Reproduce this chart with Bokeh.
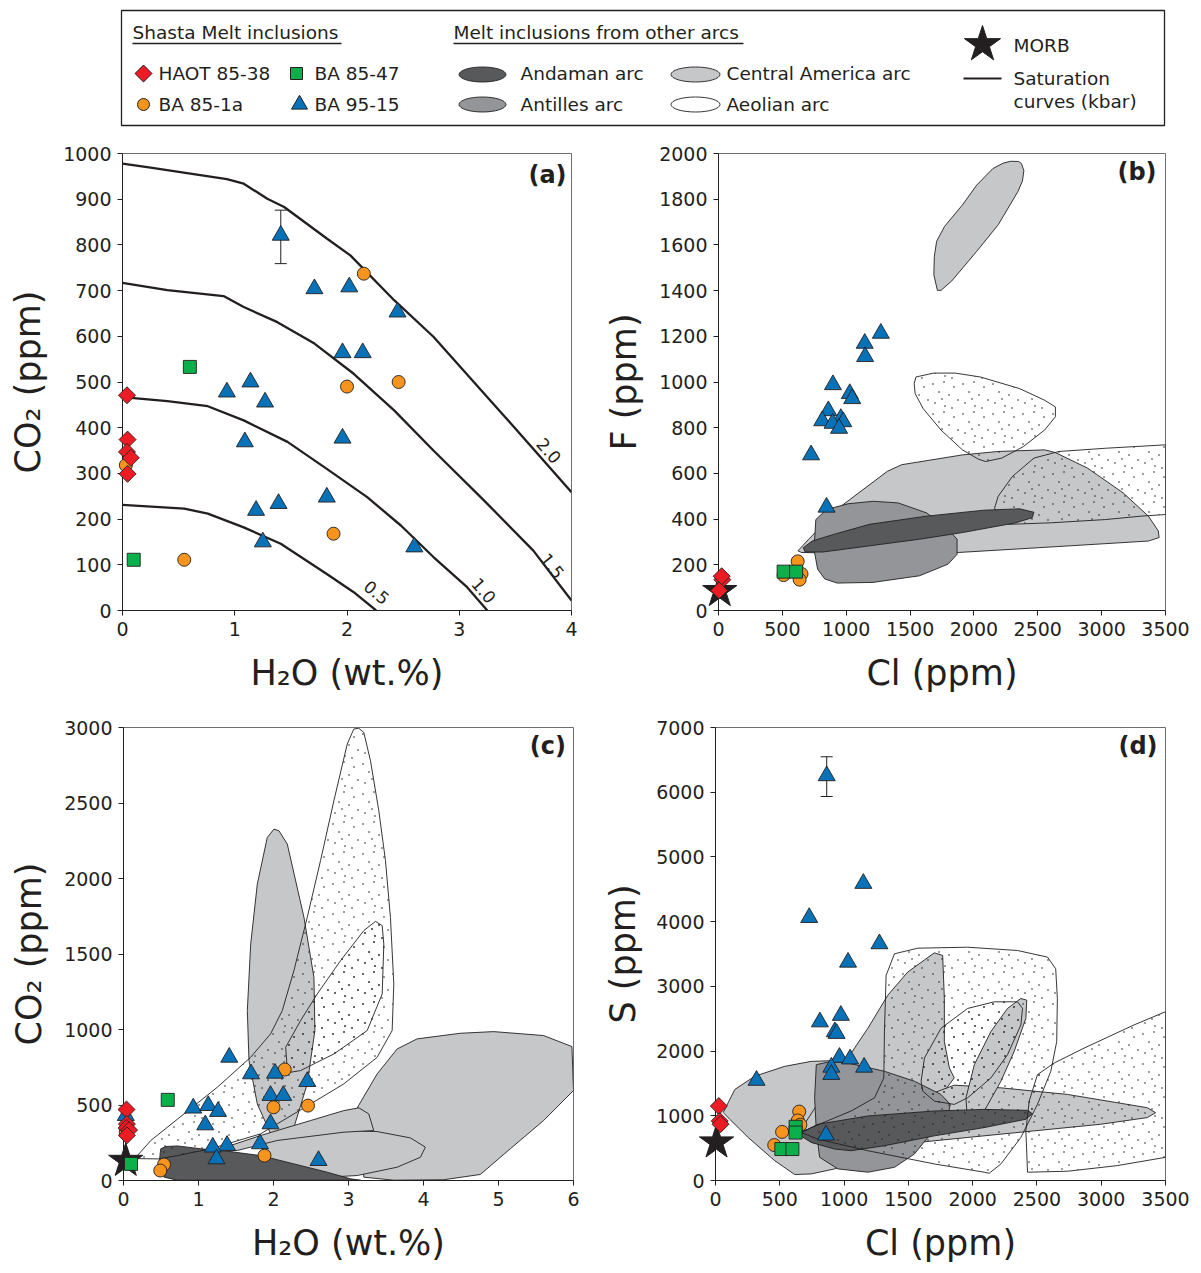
import base64
import numpy as np
from bokeh.plotting import figure
from bokeh.models import ColumnDataSource, Whisker, TeeHead, FixedTicker, Label, ImageURLTexture
from bokeh.layouts import column, row
from bokeh.embed import file_html
from bokeh.resources import INLINE
from bokeh.core.properties import value

FONT = "DejaVu Sans"
INK = "#231f20"
C_RED, C_ORA, C_GRN, C_BLU = "#ed1c24", "#f7941d", "#0cb04a", "#0872b9"
C_AND, C_ANT, C_CA = "#58595b", "#939598", "#c6c7c9"

# ---------------- panel (a): H2O vs CO2 with saturation curves ----------------
a_haot_h2o = [0.04, 0.045, 0.04, 0.074, 0.045]
a_haot_co2 = [471, 374, 347, 334, 299]
a_ba851a_h2o = [0.03, 2.15, 2.0, 2.46, 1.88, 0.55]
a_ba851a_co2 = [318, 737, 490, 500, 168, 111]
a_ba8547_h2o = [0.6, 0.1]
a_ba8547_co2 = [533, 111]
a_ba9515_h2o = [1.41, 1.71, 2.02, 2.45, 1.96, 2.14, 0.93, 1.14, 1.27, 1.09, 1.96, 1.82, 1.39, 1.19, 1.25, 2.6]
a_ba9515_co2 = [821, 704, 708, 653, 564, 564, 478, 500, 456, 369, 377, 248, 234, 219, 150, 139]
a_err_h2o, a_err_lo, a_err_hi = [1.41], [759], [876]

sat20_h2o = [0, 0.25, 0.93, 1.08, 1.29, 1.44, 1.82, 2.03, 2.42, 2.77, 3.37, 4.0]
sat20_co2 = [978, 969, 944, 934, 901, 883, 814, 777, 679, 599, 434, 259]
sat15_h2o = [0, 0.4, 0.9, 1.08, 1.38, 1.71, 2.06, 2.42, 2.77, 3.22, 3.66, 4.0]
sat15_co2 = [717, 701, 688, 664, 631, 584, 518, 438, 350, 241, 131, 22]
sat10_h2o = [0, 0.4, 0.76, 1.08, 1.47, 1.82, 2.18, 2.48, 2.77, 3.07, 3.25]
sat10_co2 = [467, 458, 447, 416, 369, 310, 248, 186, 117, 51, 0]
sat05_h2o = [0, 0.55, 0.76, 1.08, 1.41, 1.82, 2.06, 2.26]
sat05_co2 = [231, 223, 212, 182, 146, 80, 40, 0]
sat_labels = ["2.0", "1.5", "1.0", "0.5"]
sat_lab_h2o = [3.80, 3.83, 3.22, 2.265]
sat_lab_co2 = [350, 98, 44, 40]
sat_lab_angle = [-0.84, -0.90, -0.85, -0.68]

# ---------------- panel (b): Cl vs F ----------------
b_haot_cl, b_haot_f = [30, 5, 25], [135, 88, 150]
b_ba851a_cl, b_ba851a_f = [510, 620, 650, 635], [155, 215, 160, 135]
b_ba8547_cl, b_ba8547_f = [510, 608], [170, 170]
b_ba9515_cl = [1271, 1145, 1148, 896, 1028, 1047, 860, 812, 958, 977, 893, 944, 725, 846]
b_ba9515_f = [1213, 1169, 1111, 988, 949, 927, 874, 830, 840, 826, 819, 797, 681, 452]
b_morb_cl, b_morb_f = [10], [85]

b_ca1_cl = [1714, 1686, 1690, 1708, 1770, 1910, 2022, 2148, 2230, 2288, 2350, 2372, 2391, 2380, 2344, 2190, 2022, 1826, 1742]
b_ca1_f = [1401, 1470, 1550, 1616, 1681, 1775, 1862, 1934, 1958, 1966, 1965, 1956, 1925, 1880, 1833, 1688, 1572, 1442, 1401]
b_ca2_cl = [622, 706, 958, 1322, 1434, 1910, 2190, 2554, 2638, 2890, 3170, 3366, 3444, 3450, 3366, 2750, 1882, 1070, 650]
b_ca2_f = [261, 312, 456, 609, 638, 681, 696, 703, 691, 623, 514, 413, 348, 319, 304, 283, 254, 249, 254]
b_aeo1_cl = [1532, 1546, 1686, 1854, 2050, 2358, 2554, 2638, 2638, 2554, 2386, 2218, 2092, 2036, 1910, 1742, 1602, 1540]
b_aeo1_f = [993, 1022, 1039, 1039, 1022, 971, 920, 891, 848, 790, 717, 667, 652, 662, 703, 790, 884, 949]
b_aeo2_cl = [2162, 2190, 2302, 2470, 2666, 3030, 3500, 3500, 3310, 3030, 2610, 2274, 2190]
b_aeo2_f = [449, 500, 587, 667, 696, 710, 725, 420, 413, 398, 384, 377, 406]
b_ant_cl = [762, 846, 1014, 1210, 1406, 1630, 1798, 1868, 1868, 1798, 1574, 1210, 930, 832, 776, 748]
b_ant_f = [398, 442, 467, 478, 471, 427, 355, 312, 246, 203, 152, 123, 120, 138, 181, 268]
b_and_cl = [664, 734, 902, 1182, 1630, 2078, 2358, 2470, 2456, 2330, 1910, 1574, 1182, 818, 678]
b_and_f = [275, 304, 333, 377, 413, 439, 445, 430, 406, 384, 341, 312, 283, 256, 256]

# ---------------- panel (c): H2O vs CO2 with fields ----------------
c_haot_h2o, c_haot_co2 = [0.04, 0.045, 0.04, 0.074, 0.045], [470, 374, 347, 334, 299]
c_ba851a_h2o = [0.03, 2.15, 2.0, 2.46, 1.88, 0.54, 0.49]
c_ba851a_co2 = [318, 735, 485, 496, 165, 106, 66]
c_ba8547_h2o, c_ba8547_co2 = [0.59, 0.1], [534, 110]
c_ba9515_h2o = [0.03, 1.41, 1.70, 2.02, 2.45, 1.96, 2.13, 0.93, 1.13, 1.26, 1.09, 1.96, 1.82, 1.38, 1.19, 1.24, 2.6]
c_ba9515_co2 = [430, 816, 706, 710, 655, 563, 563, 479, 496, 457, 368, 375, 243, 232, 221, 143, 132]
c_morb_h2o, c_morb_co2 = [0.03], [130]

c_ca_tall_h2o = [2.006, 1.917, 1.784, 1.696, 1.651, 1.673, 1.784, 1.962, 2.153, 2.273, 2.45, 2.552, 2.539, 2.406, 2.184, 2.073]
c_ca_tall_co2 = [2327, 2272, 1963, 1566, 1125, 794, 507, 309, 249, 353, 640, 993, 1346, 1743, 2228, 2316]
c_ca_right_h2o = [3.116, 3.382, 3.648, 3.915, 4.491, 4.935, 5.601, 5.979, 6.0, 5.601, 5.157, 4.758, 4.269, 3.604, 3.204]
c_ca_right_co2 = [481, 706, 871, 938, 975, 986, 960, 887, 596, 397, 210, 40, 5, 2, 22]
c_ca_ell_h2o = [1.828, 2.139, 2.716, 3.382, 3.826, 4.025, 3.959, 3.648, 3.116, 2.583, 2.05]
c_ca_ell_co2 = [238, 298, 335, 324, 282, 221, 154, 88, 33, 18, 44]
c_ca_small_h2o = [1.162, 1.828, 2.494, 2.938, 3.139, 3.27, 3.337, 2.938, 2.05, 1.518]
c_ca_small_co2 = [188, 298, 397, 463, 481, 441, 331, 320, 265, 199]
c_and_h2o = [0.497, 0.563, 0.719, 1.029, 1.385, 1.828, 2.272, 2.716, 3.027, 3.16, 2.94, 1.607, 0.719, 0.541, 0.474, 0.488]
c_and_co2 = [210, 225, 229, 210, 194, 165, 110, 55, 11, 2, 2, 2, 2, 22, 88, 176]
c_aeo_h2o = [0.15, 0.364, 0.807, 1.252, 1.695, 1.961, 2.117, 2.272, 2.450, 2.627, 2.805, 2.983, 3.071, 3.137,
             3.204, 3.293, 3.404, 3.493, 3.559, 3.604, 3.582, 3.382, 2.938, 2.494, 1.828, 1.162, 0.719, 0.474]
c_aeo_co2 = [145, 265, 441, 618, 816, 971, 1125, 1390, 1743, 2118, 2515, 2890, 2990, 2995,
             2967, 2780, 2449, 2118, 1743, 1302, 993, 816, 640, 507, 309, 210, 165, 143]
c_aeo_in_h2o = [2.184, 2.162, 2.361, 2.583, 2.894, 3.204, 3.36, 3.449, 3.471, 3.449, 3.249, 2.805, 2.361, 2.228]
c_aeo_in_co2 = [739, 882, 1059, 1235, 1456, 1655, 1716, 1688, 1566, 1235, 993, 838, 728, 717]

# ---------------- panel (d): Cl vs S ----------------
d_haot_cl, d_haot_s = [26, 33, 39], [1150, 920, 870]
d_ba851a_cl, d_ba851a_s = [651, 640, 660, 518, 457], [1065, 928, 862, 751, 548]
d_ba8547_cl, d_ba8547_s = [623, 623, 512, 598], [830, 741, 486, 486]
d_ba9515_cl = [865, 1150, 729, 1275, 1031, 975, 812, 928, 942, 964, 1047, 1156, 901, 901, 319, 859]
d_ba9515_s = [6254, 4590, 4063, 3657, 3373, 2551, 2450, 2298, 2272, 1902, 1877, 1750, 1750, 1638, 1547, 700]
d_morb_cl, d_morb_s = [8], [588]
d_err_cl, d_err_lo, d_err_hi = [865], [5934], [6548]

d_ca_blob_cl = [60, 150, 305, 538, 745, 978, 1185, 1340, 1340, 1133, 926, 745, 616, 460, 254, 111]
d_ca_blob_s = [1050, 1406, 1611, 1764, 1841, 1856, 1790, 1636, 767, 307, 179, 102, 92, 307, 665, 946]
d_ca_tall_cl = [642, 874, 1185, 1340, 1495, 1702, 1767, 1780, 1780, 1819, 1857, 1702, 1314, 926]
d_ca_tall_s = [716, 1432, 2352, 2863, 3221, 3518, 3477, 2812, 2148, 1739, 1585, 1176, 767, 562]
d_ca_blade_cl = [667, 1185, 1857, 2220, 2737, 3125, 3358, 3423, 3358, 2996, 2478, 1961, 1444, 1055, 745]
d_ca_blade_s = [767, 972, 1473, 1432, 1330, 1202, 1125, 1048, 972, 869, 767, 665, 562, 511, 588]
d_ca_narrow_cl = [1961, 1948, 2013, 2142, 2271, 2375, 2421, 2414, 2323, 2220, 2090, 1987]
d_ca_narrow_s = [869, 1278, 1790, 2301, 2659, 2812, 2787, 2506, 1994, 1534, 1074, 844]
d_ant_cl = [784, 900, 1030, 1314, 1547, 1754, 1826, 1806, 1651, 1547, 1392, 1185, 952, 810, 784, 771]
d_ant_s = [1790, 1841, 1815, 1687, 1534, 1330, 1176, 972, 665, 409, 204, 128, 179, 358, 767, 1278]
d_and_cl = [642, 797, 1185, 1702, 2090, 2427, 2465, 2414, 2090, 1702, 1314, 1055, 926, 745]
d_and_s = [716, 869, 997, 1074, 1099, 1084, 1033, 946, 818, 690, 537, 460, 486, 588]
d_aeo_box_cl = [667, 745, 1055, 1237, 1309, 1314, 1327, 1392, 1573, 1961, 2349, 2582, 2646, 2659, 2654, 2608,
                2504, 2375, 2220, 2129, 2090, 1702, 1185, 797]
d_aeo_box_s = [741, 818, 1074, 1278, 1585, 2301, 3170, 3503, 3590, 3605, 3554, 3452, 3272, 2812, 2148, 1687,
               1176, 665, 256, 112, 128, 256, 460, 639]
d_aeo_loop_cl = [1599, 1625, 1754, 1961, 2168, 2349, 2388, 2375, 2271, 2142, 1961, 1857, 1702, 1612]
d_aeo_loop_s = [1534, 1892, 2352, 2659, 2761, 2761, 2659, 2403, 1943, 1585, 1278, 1176, 1227, 1381]
d_aeo_wedge_cl = [2427, 2414, 2440, 2504, 2634, 2866, 3254, 3500, 3500, 3125, 2737]
d_aeo_wedge_s = [128, 767, 1227, 1636, 1815, 2045, 2403, 2608, 358, 230, 143]

# ---------------- axes ----------------
a_xticks, a_yticks = [0, 1, 2, 3, 4], list(range(0, 1001, 100))
b_xticks, b_yticks = list(range(0, 3501, 500)), list(range(0, 2001, 200))
c_xticks, c_yticks = [0, 1, 2, 3, 4, 5, 6], list(range(0, 3001, 500))
d_xticks, d_yticks = list(range(0, 3501, 500)), list(range(0, 7001, 1000))


# stipple textures for the Aeolian fields (small tiles of sparse, irregular dots)
def stipple(w, h, dots):
    svg = (f"<svg xmlns='http://www.w3.org/2000/svg' width='{w}' height='{h}'>"
           + "".join(f"<circle cx='{x}' cy='{y}' r='0.8' fill='#231f20'/>" for x, y in dots)
           + "</svg>")
    return ImageURLTexture(url="data:image/svg+xml;base64," + base64.b64encode(svg.encode()).decode())


STIPPLE = stipple(30, 30, [(3, 4), (14, 2), (24, 7), (9, 12), (19, 15), (28, 20), (5, 23), (15, 26), (22, 28), (12, 19)])
STIPPLE_LEG = stipple(18, 10, [(5, 3), (14, 8)])


def make_fig(w, h, left, right, top_, bottom, xr, yr, xt, yt, xlabel, ylabel):
    p = figure(width=w, height=h, x_range=xr, y_range=yr, output_backend="svg",
               toolbar_location=None, min_border_left=left, min_border_right=right,
               min_border_top=top_, min_border_bottom=bottom)
    p.grid.visible = False
    p.xaxis.ticker = FixedTicker(ticks=xt)
    p.yaxis.ticker = FixedTicker(ticks=yt)
    p.xaxis.axis_label = xlabel
    p.yaxis.axis_label = ylabel
    for ax in (p.xaxis, p.yaxis):
        ax.major_label_text_font = FONT
        ax.major_label_text_font_size = "19px"
        ax.major_label_text_color = INK
        ax.axis_label_text_font = FONT
        ax.axis_label_text_font_size = "35px"
        ax.axis_label_text_font_style = "normal"
        ax.axis_label_text_color = INK
        ax.minor_tick_line_color = None
        ax.major_tick_in = 0
        ax.major_tick_out = 5
        ax.major_tick_line_color = INK
        ax.axis_line_color = INK
        ax.major_label_standoff = 6
    p.yaxis.axis_label_standoff = 12
    p.xaxis.axis_label_standoff = 14
    p.outline_line_color = "#6d6e71"
    p.outline_line_width = 1
    p.background_fill_color = "white"
    p.border_fill_color = "white"
    return p


def field(p, xs, ys, color):
    p.patch(xs, ys, fill_color=color, line_color=INK, line_width=0.9)


def dotted(p, xs, ys):
    p.patch(xs, ys, fill_color=None, line_color=INK, line_width=0.9,
            hatch_pattern="stipple", hatch_extra={"stipple": STIPPLE})


def top(r):
    r.level = "overlay"
    return r


def points(p, haot, ba851a, ba8547, ba9515):
    top(p.scatter(*ba851a, marker="circle", size=13, fill_color=C_ORA, line_color=INK, line_width=0.9))
    top(p.scatter(*ba8547, marker="square", size=13, fill_color=C_GRN, line_color=INK, line_width=0.9))
    top(p.scatter(*ba9515, marker="triangle", size=17, fill_color=C_BLU, line_color=INK, line_width=0.9))
    top(p.scatter(*haot, marker="square", angle=np.pi / 4, size=12, fill_color=C_RED, line_color=INK,
                  line_width=0.9))


def morb(p, xs, ys):
    top(p.scatter(xs, ys, marker="star", size=36, fill_color=INK, line_color=INK))


def letter(p, x, y, txt):
    p.add_layout(Label(x=x, y=y, text=txt, text_font=FONT, text_font_size="24px",
                       text_font_style="bold", text_color=INK, text_align="right",
                       text_baseline="middle"))


def errbar(p, xs, lo, hi):
    src = ColumnDataSource(dict(x=xs, lower=lo, upper=hi))
    p.add_layout(Whisker(source=src, base="x", lower="lower", upper="upper", dimension="height",
                         line_color=INK, line_width=1,
                         upper_head=TeeHead(size=12, line_color=INK, line_width=1),
                         lower_head=TeeHead(size=12, line_color=INK, line_width=1)))


# ---------------- legend ----------------
lg = figure(width=1201, height=140, x_range=(0, 1201), y_range=(140, 0), output_backend="svg",
            toolbar_location=None, x_axis_type=None, y_axis_type=None,
            min_border=0, min_border_left=0, min_border_right=0, min_border_top=0, min_border_bottom=0)
lg.grid.visible = False
lg.outline_line_color = None
lg.quad(left=121, right=1164, top=10, bottom=125, fill_color=None, line_color=INK, line_width=1.3)
lg_font = dict(text_font=value(FONT), text_font_size=value("18.5px"), text_color=INK,
               text_baseline="middle", text_align="left")
lg.text(x=[132, 453], y=[32, 32], text=["Shasta Melt inclusions", "Melt inclusions from other arcs"], **lg_font)
lg.segment(x0=[132, 453], y0=[43, 43], x1=[341, 743], y1=[43, 43], line_color=INK, line_width=1.3)
lg.text(x=[158, 314, 158, 314, 520, 520, 726, 726, 1013, 1013, 1013],
        y=[73, 73, 104, 104, 73, 104, 73, 104, 45, 78, 101],
        text=["HAOT 85-38", "BA 85-47", "BA 85-1a", "BA 95-15", "Andaman arc", "Antilles arc",
              "Central America arc", "Aeolian arc", "MORB", "Saturation", "curves (kbar)"], **lg_font)
lg.scatter([143], [73], marker="square", angle=np.pi / 4, size=12, fill_color=C_RED, line_color=INK)
lg.scatter([296], [73], marker="square", size=12, fill_color=C_GRN, line_color=INK)
lg.scatter([143], [104], marker="circle", size=12, fill_color=C_ORA, line_color=INK)
lg.scatter([299], [104], marker="triangle", size=16, fill_color=C_BLU, line_color=INK)
lg.ellipse(x=[482, 482], y=[74, 104], width=47, height=15, fill_color=[C_AND, C_ANT], line_color=INK, line_width=0.9)
lg.ellipse(x=[695], y=[74], width=49, height=15, fill_color=C_CA, line_color=INK, line_width=0.9)
lg.ellipse(x=[695], y=[104], width=49, height=15, fill_color="white", line_color=INK, line_width=0.9,
           hatch_pattern="stipple", hatch_extra={"stipple": STIPPLE_LEG})
lg.scatter([982], [44], marker="star", size=38, fill_color=INK, line_color=INK)
lg.segment(x0=[963], y0=[78], x1=[1001], y1=[78], line_color=INK, line_width=2)

# ---------------- panel (a) ----------------
pa = make_fig(600, 560, 122, 29, 13, 90, (0, 4), (0, 1000), a_xticks, a_yticks, "H₂O (wt.%)", "CO₂ (ppm)")
for hx, cy in [(sat20_h2o, sat20_co2), (sat15_h2o, sat15_co2), (sat10_h2o, sat10_co2), (sat05_h2o, sat05_co2)]:
    pa.line(hx, cy, line_color=INK, line_width=2.3)
pa.text(x=sat_lab_h2o, y=sat_lab_co2, text=sat_labels, angle=sat_lab_angle, text_font=value(FONT),
        text_font_size=value("17px"), text_color=INK, text_align="center", text_baseline="middle")
errbar(pa, a_err_h2o, a_err_lo, a_err_hi)
points(pa, (a_haot_h2o, a_haot_co2), (a_ba851a_h2o, a_ba851a_co2), (a_ba8547_h2o, a_ba8547_co2),
       (a_ba9515_h2o, a_ba9515_co2))
letter(pa, 3.956, 952, "(a)")

# ---------------- panel (b) ----------------
pb = make_fig(601, 560, 118, 36, 12, 90, (0, 3500), (0, 2000), b_xticks, b_yticks, "Cl (ppm)", "F (ppm)")
field(pb, b_ca1_cl, b_ca1_f, C_CA)
field(pb, b_ca2_cl, b_ca2_f, C_CA)
dotted(pb, b_aeo1_cl, b_aeo1_f)
dotted(pb, b_aeo2_cl, b_aeo2_f)
field(pb, b_ant_cl, b_ant_f, C_ANT)
field(pb, b_and_cl, b_and_f, C_AND)
morb(pb, b_morb_cl, b_morb_f)
points(pb, (b_haot_cl, b_haot_f), (b_ba851a_cl, b_ba851a_f), (b_ba8547_cl, b_ba8547_f), (b_ba9515_cl, b_ba9515_f))
letter(pb, 3430, 1921, "(b)")

# ---------------- panel (c) ----------------
pc = make_fig(600, 573, 123, 27, 27, 93, (0, 6), (0, 3000), c_xticks, c_yticks, "H₂O (wt.%)", "CO₂ (ppm)")
field(pc, c_ca_tall_h2o, c_ca_tall_co2, C_CA)
field(pc, c_ca_right_h2o, c_ca_right_co2, C_CA)
field(pc, c_ca_ell_h2o, c_ca_ell_co2, C_CA)
field(pc, c_ca_small_h2o, c_ca_small_co2, C_CA)
field(pc, c_and_h2o, c_and_co2, C_AND)
dotted(pc, c_aeo_h2o, c_aeo_co2)
dotted(pc, c_aeo_in_h2o, c_aeo_in_co2)
morb(pc, c_morb_h2o, c_morb_co2)
points(pc, (c_haot_h2o, c_haot_co2), (c_ba851a_h2o, c_ba851a_co2), (c_ba8547_h2o, c_ba8547_co2),
       (c_ba9515_h2o, c_ba9515_co2))
letter(pc, 5.90, 2879, "(c)")

# ---------------- panel (d) ----------------
pd_ = make_fig(601, 573, 114, 36, 23, 93, (0, 3500), (0, 7000), d_xticks, d_yticks, "Cl (ppm)", "S (ppm)")
pd_.yaxis.axis_label_standoff = 10
field(pd_, d_ca_blob_cl, d_ca_blob_s, C_CA)
field(pd_, d_ca_tall_cl, d_ca_tall_s, C_CA)
field(pd_, d_ca_blade_cl, d_ca_blade_s, C_CA)
field(pd_, d_ca_narrow_cl, d_ca_narrow_s, C_CA)
field(pd_, d_ant_cl, d_ant_s, C_ANT)
field(pd_, d_and_cl, d_and_s, C_AND)
dotted(pd_, d_aeo_box_cl, d_aeo_box_s)
dotted(pd_, d_aeo_loop_cl, d_aeo_loop_s)
dotted(pd_, d_aeo_wedge_cl, d_aeo_wedge_s)
errbar(pd_, d_err_cl, d_err_lo, d_err_hi)
morb(pd_, d_morb_cl, d_morb_s)
points(pd_, (d_haot_cl, d_haot_s), (d_ba851a_cl, d_ba851a_s), (d_ba8547_cl, d_ba8547_s), (d_ba9515_cl, d_ba9515_s))
letter(pd_, 3438, 6719, "(d)")

layout = column(lg, row(pa, pb, spacing=0), row(pc, pd_, spacing=0), spacing=0)
open("out.html", "w").write(file_html(layout, INLINE))
